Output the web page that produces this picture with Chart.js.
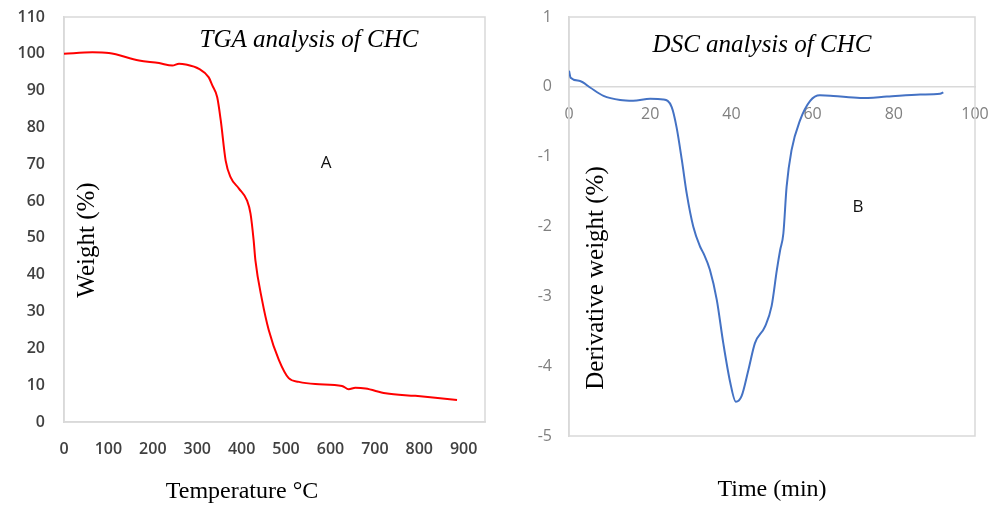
<!DOCTYPE html>
<html>
<head>
<meta charset="utf-8">
<script src="https://cdn.jsdelivr.net/npm/chart.js@4"></script>
<style>
  html,body{margin:0;padding:0;background:#fff;}
  #wrap{position:relative;width:1000px;height:506px;}
  .pane{position:absolute;top:0;width:500px;height:506px;}
</style>
</head>
<body>
<div id="wrap">
  <div class="pane" style="left:0"><canvas id="tga" width="500" height="506"></canvas></div>
  <div class="pane" style="left:500px"><canvas id="dsc" width="500" height="506"></canvas></div>
</div>
<script>
// ── Data ─────────────────────────────────────────────────────────────────────
const tgaTemp   = [0, 64, 101, 169, 214, 244, 259, 274, 304, 326, 334, 345, 353, 364, 375, 394, 412, 420, 427, 431, 446, 461, 484, 506, 529, 566, 626, 641, 656, 679, 724, 791, 836, 885];
const tgaWeight = [100, 100.4, 100.2, 98.2, 97.5, 96.8, 97.3, 97.1, 95.9, 93.6, 91.4, 88.2, 81.9, 71, 66.5, 63.4, 60.2, 56.6, 49.4, 43.9, 33.1, 25, 16.8, 11.9, 10.9, 10.3, 9.8, 8.9, 9.3, 9.1, 7.8, 7.1, 6.6, 6.0];

const dscTime  = [0, 0.4, 2.7, 5.2, 8.5, 12.6, 15.8, 20, 23.2, 25.3, 26.5, 27.8, 29, 30.6, 32.3, 33.1, 34.7, 36.4, 38, 39.7, 41.1, 42.5, 44.2, 45.8, 48.3, 49.9, 51.2, 52, 52.8, 53.6, 54.8, 56.9, 59.4, 61.8, 65.1, 71.7, 78.3, 86.5, 91.4, 92.2];
const dscDeriv = [0.23, 0.13, 0.085, -0.01, -0.13, -0.19, -0.20, -0.17, -0.18, -0.29, -0.58, -1.05, -1.53, -2.0, -2.29, -2.38, -2.62, -3.05, -3.67, -4.23, -4.51, -4.43, -4.05, -3.67, -3.43, -3.14, -2.62, -2.34, -2.10, -1.43, -0.91, -0.48, -0.20, -0.12, -0.13, -0.16, -0.14, -0.11, -0.10, -0.08];

const tgaXTicks = [0, 100, 200, 300, 400, 500, 600, 700, 800, 900];
const tgaYTicks = [0, 10, 20, 30, 40, 50, 60, 70, 80, 90, 100, 110];
const dscXTicks = [0, 20, 40, 60, 80, 100];
const dscYTicks = [-5, -4, -3, -2, -1, 0, 1];

// ── Shared bits ──────────────────────────────────────────────────────────────
const SERIF = '"Liberation Serif", "Times New Roman", serif';
const SANS  = '"Open Sans", Lato, sans-serif';
const BOX   = '#d9d9d9';

// grey frame round the plot area
const framePlugin = {
  id: 'frame',
  beforeDatasetsDraw(chart) {
    const {ctx, chartArea: a} = chart;
    ctx.save(); ctx.strokeStyle = BOX; ctx.lineWidth = 1.5;
    ctx.strokeRect(a.left, a.top, a.right - a.left, a.bottom - a.top);
    ctx.restore();
  }
};

// free text (titles, panel letters, rotated y titles)
const notesPlugin = {
  id: 'notes',
  afterDatasetsDraw(chart, args, opts) {
    const ctx = chart.ctx;
    (opts.items || []).forEach(n => {
      ctx.save();
      ctx.font = n.font; ctx.fillStyle = n.color || '#000';
      ctx.textAlign = 'center'; ctx.textBaseline = 'middle';
      ctx.translate(n.x, n.y); if (n.rot) ctx.rotate(n.rot);
      ctx.fillText(n.text, 0, 0);
      ctx.restore();
    });
  }
};

const keepTicks = list => scale => { scale.ticks = list.map(v => ({value: v})); };
// fixed box size, no label overhang pushing the plot area around
const fixSize = (w, h) => s => {
  if (w != null) s.width = w;
  if (h != null) s.height = h;
  s.paddingTop = s.paddingBottom = s.paddingLeft = s.paddingRight = 0;
};

// ── A: TGA ───────────────────────────────────────────────────────────────────
new Chart(document.getElementById('tga'), {
  type: 'line',
  data: { datasets: [{
    data: tgaTemp.map((t, i) => ({x: t, y: tgaWeight[i]})),
    borderColor: '#ff0000', borderWidth: 2, pointRadius: 0,
    cubicInterpolationMode: 'monotone', fill: false
  }]},
  options: {
    responsive: false, animation: false, events: [],
    layout: { padding: {top: 17, right: 15, left: 0, bottom: 0} },
    plugins: {
      legend: {display: false}, tooltip: {enabled: false},
      notes: { items: [
        {text: 'TGA analysis of CHC', x: 309, y: 40, font: 'italic 25px ' + SERIF},
        {text: 'A', x: 326, y: 163, font: '17px ' + SANS, color: '#111'},
        {text: 'Weight (%)', x: 87, y: 240, rot: -Math.PI / 2, font: '25px ' + SERIF},
        {text: 'Temperature °C', x: 242, y: 492, font: '24px ' + SERIF}
      ]}
    },
    scales: {
      x: {
        type: 'linear', min: 0, max: 948,
        afterBuildTicks: keepTicks(tgaXTicks),
        afterFit: fixSize(null, 84),
        grid: {display: false, drawTicks: false}, border: {color: BOX, width: 1.5},
        ticks: {autoSkip: false, maxRotation: 0, padding: 18, color: '#404040', font: {family: SANS, size: 16, weight: '600'}}
      },
      y: {
        min: 0, max: 110,
        afterBuildTicks: keepTicks(tgaYTicks),
        afterFit: fixSize(64, null),
        grid: {display: false, drawTicks: false}, border: {color: BOX, width: 1.5},
        ticks: {autoSkip: false, padding: 19, color: '#404040', font: {family: SANS, size: 16, weight: '600'}}
      }
    }
  },
  plugins: [framePlugin, notesPlugin]
});

// ── B: DSC ───────────────────────────────────────────────────────────────────
new Chart(document.getElementById('dsc'), {
  type: 'line',
  data: { datasets: [{
    data: dscTime.map((t, i) => ({x: t, y: dscDeriv[i]})),
    borderColor: '#4472c4', borderWidth: 2, pointRadius: 0,
    cubicInterpolationMode: 'monotone', fill: false
  }]},
  options: {
    responsive: false, animation: false, events: [],
    layout: { padding: {top: 17, right: 25, left: 0, bottom: 0} },
    plugins: {
      legend: {display: false}, tooltip: {enabled: false},
      notes: { items: [
        {text: 'DSC analysis of CHC', x: 262, y: 45, font: 'italic 25px ' + SERIF},
        {text: 'B', x: 358, y: 207, font: '17px ' + SANS, color: '#111'},
        {text: 'Derivative weight (%)', x: 96, y: 278, rot: -Math.PI / 2, font: '25px ' + SERIF}
      ]}
    },
    scales: {
      x: {
        type: 'linear', min: 0, max: 100, position: {y: 0},
        afterBuildTicks: keepTicks(dscXTicks),
        afterFit: fixSize(null, null),
        grid: {display: false, drawTicks: false}, border: {color: BOX, width: 1.5},
        ticks: {autoSkip: false, maxRotation: 0, padding: 18, color: '#808080', font: {family: SANS, size: 16}}
      },
      xb: {
        type: 'linear', min: 0, max: 100, position: 'bottom',
        afterFit: fixSize(null, 70),
        grid: {display: false, drawTicks: false}, border: {display: false},
        ticks: {display: false},
        title: {display: true, text: 'Time (min)', color: '#000', padding: {top: 0, bottom: 2},
                font: {family: SERIF, size: 24}}
      },
      y: {
        min: -5, max: 1,
        afterBuildTicks: keepTicks(dscYTicks),
        afterFit: fixSize(69, null),
        grid: {display: false, drawTicks: false}, border: {color: BOX, width: 1.5},
        ticks: {autoSkip: false, padding: 17, color: '#808080', font: {family: SANS, size: 16}}
      }
    }
  },
  plugins: [framePlugin, notesPlugin]
});
</script>
</body>
</html>
